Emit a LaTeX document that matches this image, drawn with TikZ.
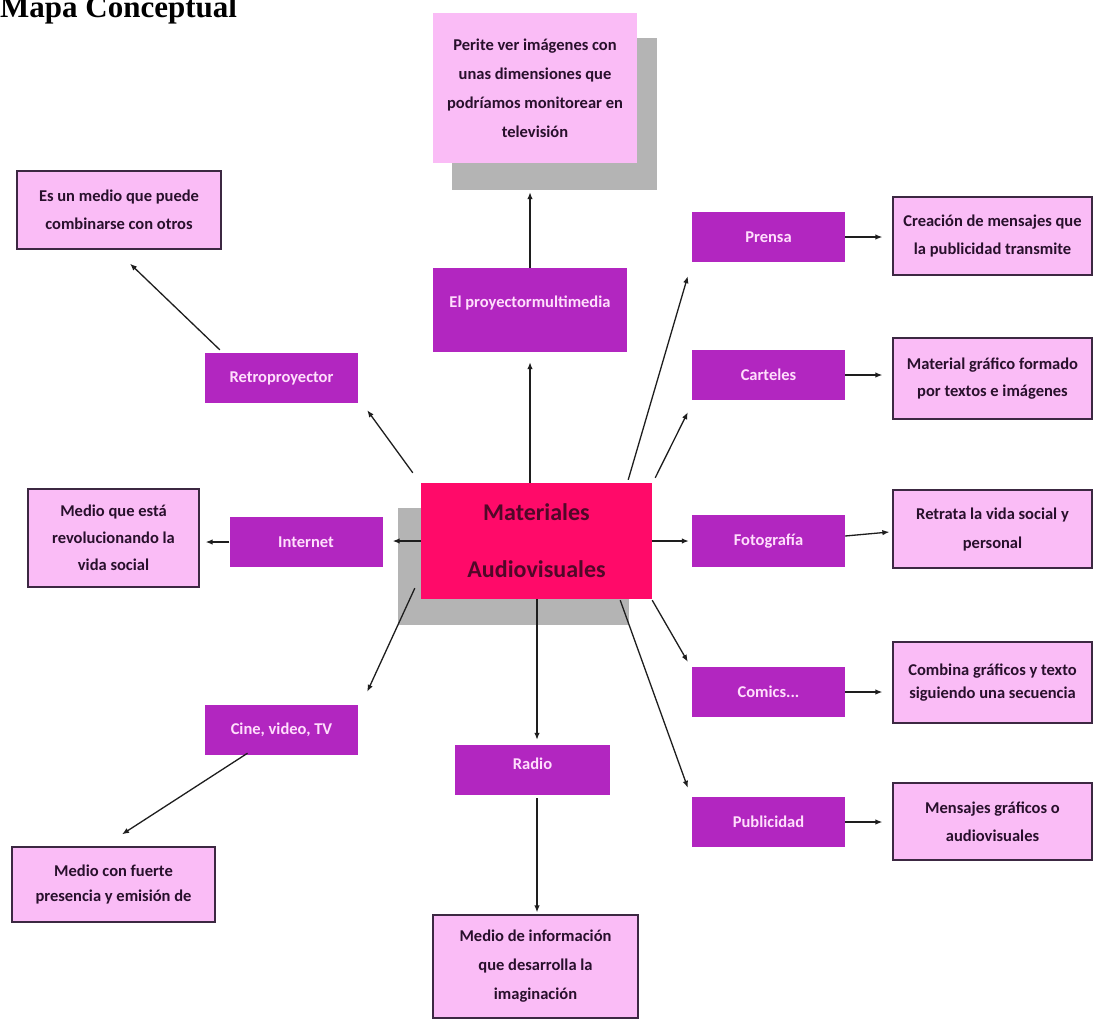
\documentclass[tikz,border=0pt]{standalone}
\usepackage{fontspec}
\setmainfont{Carlito}
\newfontfamily\titlefont{Liberation Serif}
\usetikzlibrary{arrows.meta,calc}
\definecolor{purp}{RGB}{178,38,192}
\definecolor{purptext}{RGB}{255,222,252}
\definecolor{pinkfill}{RGB}{250,188,246}
\definecolor{pinkedge}{RGB}{60,40,66}
\definecolor{pinktext}{RGB}{40,16,44}
\definecolor{hotpink}{RGB}{255,10,105}
\definecolor{hottext}{RGB}{80,8,40}
\definecolor{shadowgray}{RGB}{180,180,180}
\definecolor{arrowc}{RGB}{30,30,30}
\begin{document}
\begin{tikzpicture}[x=1pt,y=-1pt,
  pinkbox/.style={draw=pinkedge,line width=1.3pt,fill=pinkfill,align=center,inner sep=0pt,text=pinktext,font=\bfseries\fontsize{16.5}{27.5}\selectfont},
  purpbox/.style={fill=purp,align=center,inner sep=0pt,text=purptext,minimum width=153pt,minimum height=50pt,font=\bfseries\fontsize{16.5}{19}\selectfont},
  shadowbox/.style={fill=shadowgray,inner sep=0pt},
  arr/.style={-{Latex[length=7pt,width=5.5pt]},line width=1.3pt,draw=arrowc}
]
\useasboundingbox (0,0) rectangle (1094,1021);
\fill[white] (0,0) rectangle (1094,1021);

% title
\node[anchor=base west,inner sep=0pt,font=\titlefont\bfseries\fontsize{31}{31}\selectfont] (title) at (0,17) {Mapa Conceptual};

% shadows
\node[shadowbox,minimum width=205pt,minimum height=152pt] (perites) at (554.5,114) {};
\node[shadowbox,minimum width=231pt,minimum height=117pt] (cs) at (513.5,566.5) {};

% top box
\node[pinkbox,draw=none,minimum width=204pt,minimum height=150pt,font=\bfseries\fontsize{16.5}{29}\selectfont] (perite) at (535,88)
  {Perite ver imágenes con\\unas dimensiones que\\podríamos monitorear en\\televisión};

% center
\node[fill=hotpink,inner sep=0pt,minimum width=231pt,minimum height=116pt,align=center,text=hottext,font=\bfseries\fontsize{24}{57}\selectfont] (c) at (536.5,541) {Materiales\\Audiovisuales};

% purple boxes
\node[purpbox,minimum width=194pt,minimum height=84pt] (proy) at (530,310) {\raisebox{3pt}[0pt][0pt]{El proyectormultimedia}};
\node[purpbox] (retro) at (281.5,378) {Retroproyector};
\node[purpbox] (prensa) at (768.5,237) {Prensa};
\node[purpbox] (cart) at (768.5,375) {Carteles};
\node[purpbox,minimum height=52pt] (foto) at (768.5,541) {Fotografía};
\node[purpbox] (comics) at (768.5,692) {Comics...};
\node[purpbox] (pub) at (768.5,822) {Publicidad};
\node[purpbox] (inter) at (306,542) {Internet};
\node[purpbox] (cine) at (281.5,730) {Cine, video, TV};
\node[purpbox,minimum width=155pt] (radio) at (532.5,770) {\raisebox{0.5pt}[0pt][0pt]{Radio}};

% pink boxes
\node[pinkbox,minimum width=204pt,minimum height=78pt] (es) at (119,210) {Es un medio que puede\\combinarse con otros};
\node[pinkbox,minimum width=199pt,minimum height=78pt] (crea) at (992.5,236) {Creación de mensajes que\\la publicidad transmite};
\node[pinkbox,minimum width=199pt,minimum height=81pt] (mat) at (992.5,378.5) {Material gráfico formado\\por textos e imágenes};
\node[pinkbox,minimum width=199pt,minimum height=78pt,font=\bfseries\fontsize{16.5}{29}\selectfont] (retr) at (992.5,529) {Retrata la vida social y\\personal};
\node[pinkbox,minimum width=171pt,minimum height=98pt,font=\bfseries\fontsize{16.5}{27}\selectfont] (esta) at (113.5,538) {Medio que está\\revolucionando la\\vida social};
\node[pinkbox,minimum width=199pt,minimum height=81pt,font=\bfseries\fontsize{16.5}{23}\selectfont] (comb) at (992.5,682.5) {Combina gráficos y texto\\siguiendo una secuencia};
\node[pinkbox,minimum width=199pt,minimum height=77pt] (mens) at (992.5,821.5) {Mensajes gráficos o\\audiovisuales};
\node[pinkbox,minimum width=203pt,minimum height=75pt,font=\bfseries\fontsize{16.5}{25}\selectfont] (fuerte) at (113.5,884.5) {Medio con fuerte\\presencia y emisión de};
\node[pinkbox,minimum width=205pt,minimum height=103pt,font=\bfseries\fontsize{16.5}{29}\selectfont] (info) at (535.5,966.5) {Medio de información\\que desarrolla la\\imaginación};

% connectors
\draw[arr,shorten >=10pt] ([xshift=-6.5pt]c.north) -- ([xshift=-6.5pt]c.north |- proy.south);
\draw[arr,shorten >=2pt] (proy.north) -- (proy.north |- perites.south);
\draw[arr] ([shift={(-8,-10)}]c.north west) -- ([shift={(9,7)}]retro.south east);
\draw[arr] ([shift={(15,-3)}]retro.north west) -- ([shift={(11,14)}]es.south);
\draw[arr] ([shift={(-24,-3)}]c.north east) -- ([shift={(-4,14)}]prensa.south west);
\draw[arr] ([shift={(3,-5)}]c.north east) -- ([shift={(-4,12)}]cart.south west);
\draw[arr,shorten >=3pt] (c.east) -- (c.east -| foto.west);
\draw[arr,shorten >=10pt] (prensa.east) -- (prensa.east -| crea.west);
\draw[arr,shorten >=10pt] (cart.east) -- (cart.east -| mat.west);
\draw[arr] ([yshift=5pt]foto.east) -- ([shift={(-3,3)}]retr.west);
\draw[arr,shorten >=10pt] (comics.east) -- (comics.east -| comb.west);
\draw[arr,shorten >=10pt] (pub.east) -- (pub.east -| mens.west);
\draw[arr,shorten >=10pt] (c.west) -- (c.west -| inter.east);
\draw[arr,shorten >=6pt] (inter.west) -- (inter.west -| esta.east);
\draw[arr] ([shift={(-6,-11)}]c.south west) -- ([shift={(9,-13)}]cine.north east);
\draw[arr] ([shift={(-34,-2)}]cine.south) -- ([shift={(8.5,-12)}]fuerte.north);
\draw[arr,shorten >=5pt] ([xshift=0.5pt]c.south) -- ([xshift=0.5pt]c.south |- radio.north);
\draw[arr,shorten <=3pt,shorten >=2pt] ([xshift=4.5pt]radio.south) -- ([xshift=4.5pt]radio.south |- info.north);
\draw[arr] ([shift={(0,1)}]c.south east) -- ([shift={(-4,-5)}]comics.north west);
\draw[arr] ([shift={(-32,1)}]c.south east) -- ([shift={(-4,-9)}]pub.north west);
\end{tikzpicture}
\end{document}
